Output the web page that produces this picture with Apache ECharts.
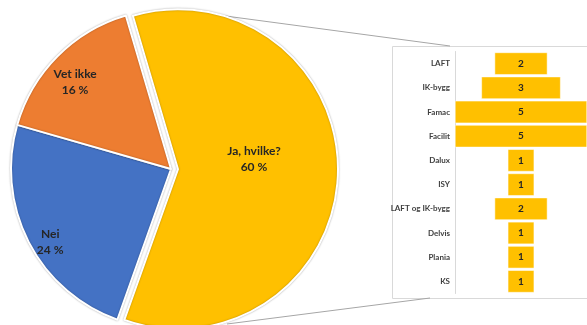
<!DOCTYPE html>
<html>
<head>
<meta charset="utf-8">
<script src="https://cdn.jsdelivr.net/npm/echarts@6/dist/echarts.min.js"></script>
<style>
html,body{margin:0;padding:0;background:#fff;}
#main{width:587px;height:325px;}
</style>
</head>
<body>
<div id="main"></div>
<script>
// Pie data
var pieNames = ['Ja, hvilke?', 'Nei', 'Vet ikke'];
var pieValues = [60, 24, 16];
var pieColors = ['#FFC000', '#4472C4', '#ED7D31'];

// Bar (funnel) data
var barCategories = ['LAFT', 'IK-bygg', 'Famac', 'Facilit', 'Dalux', 'ISY', 'LAFT og IK-bygg', 'Delvis', 'Plania', 'KS'];
var barValues = [2, 3, 5, 5, 1, 1, 2, 1, 1, 1];
var barMax = 5;

var labelOffsets = [
  {dx: -7, dy: -12},
  {dx: -47, dy: 35},
  {dx: -37, dy: -28}
];

var chart = echarts.init(document.getElementById('main'), null, {renderer: 'canvas'});

var pieData = pieNames.map(function (n, i) {
  return {
    name: n,
    value: pieValues[i],
    selected: i === 0,
    itemStyle: {color: pieColors[i]}
  };
});

var padData = barValues.map(function (v) { return (barMax - v) / 2; });

var option = {
  animation: false,
  textStyle: {fontFamily: 'Lato'},
  grid: [{left: 455, top: 51.5, width: 140, height: 242, containLabel: false}],
  xAxis: [{type: 'value', min: 0, max: barMax, show: false, gridIndex: 0}],
  yAxis: [{
    type: 'category', gridIndex: 0, inverse: true, data: barCategories,
    axisLine: {show: true, lineStyle: {color: '#d9d9d9'}},
    axisTick: {show: false},
    axisLabel: {fontSize: 8, fontWeight: 'bold', color: '#404040', margin: 5, fontFamily: 'Lato'}
  }],
  graphic: [
    {type: 'rect', shape: {x: 392.5, y: 46.5, width: 210, height: 252}, style: {fill: 'none', stroke: '#d9d9d9', lineWidth: 1}, z: 0},
    {type: 'line', shape: {x1: 203, y1: 13, x2: 450, y2: 46}, style: {stroke: '#a6a6a6', lineWidth: 1}, z: 0},
    {type: 'line', shape: {x1: 227, y1: 324, x2: 430, y2: 298}, style: {stroke: '#a6a6a6', lineWidth: 1}, z: 0}
  ],
  series: [
    {
      type: 'pie',
      center: [171, 169],
      radius: 160,
      startAngle: 106.4,
      clockwise: true,
      selectedMode: 'single',
      selectedOffset: 7,
      avoidLabelOverlap: false,
      itemStyle: {borderColor: '#fff', borderWidth: 2, shadowBlur: 2, shadowColor: 'rgba(0,0,0,0.3)'},
      label: {
        show: true, position: 'inside', formatter: '{b}\n{c} %',
        fontSize: 12, fontWeight: 'bold', color: '#262626', lineHeight: 16, fontFamily: 'Lato'
      },
      labelLine: {show: false},
      labelLayout: function (p) { return labelOffsets[p.dataIndex]; },
      emphasis: {disabled: true},
      data: pieData,
      z: 2
    },
    {
      type: 'bar', xAxisIndex: 0, yAxisIndex: 0, stack: 'f',
      data: padData, itemStyle: {color: 'transparent'},
      barCategoryGap: '8%', silent: true
    },
    {
      type: 'bar', xAxisIndex: 0, yAxisIndex: 0, stack: 'f',
      data: barValues, barCategoryGap: '8%',
      itemStyle: {color: '#FFC000', borderColor: '#ffffff', borderWidth: 0.5},
      label: {show: true, position: 'inside', fontSize: 10, fontWeight: 'bold', color: '#262626', fontFamily: 'Lato'}
    }
  ]
};
chart.setOption(option);
</script>
</body>
</html>
